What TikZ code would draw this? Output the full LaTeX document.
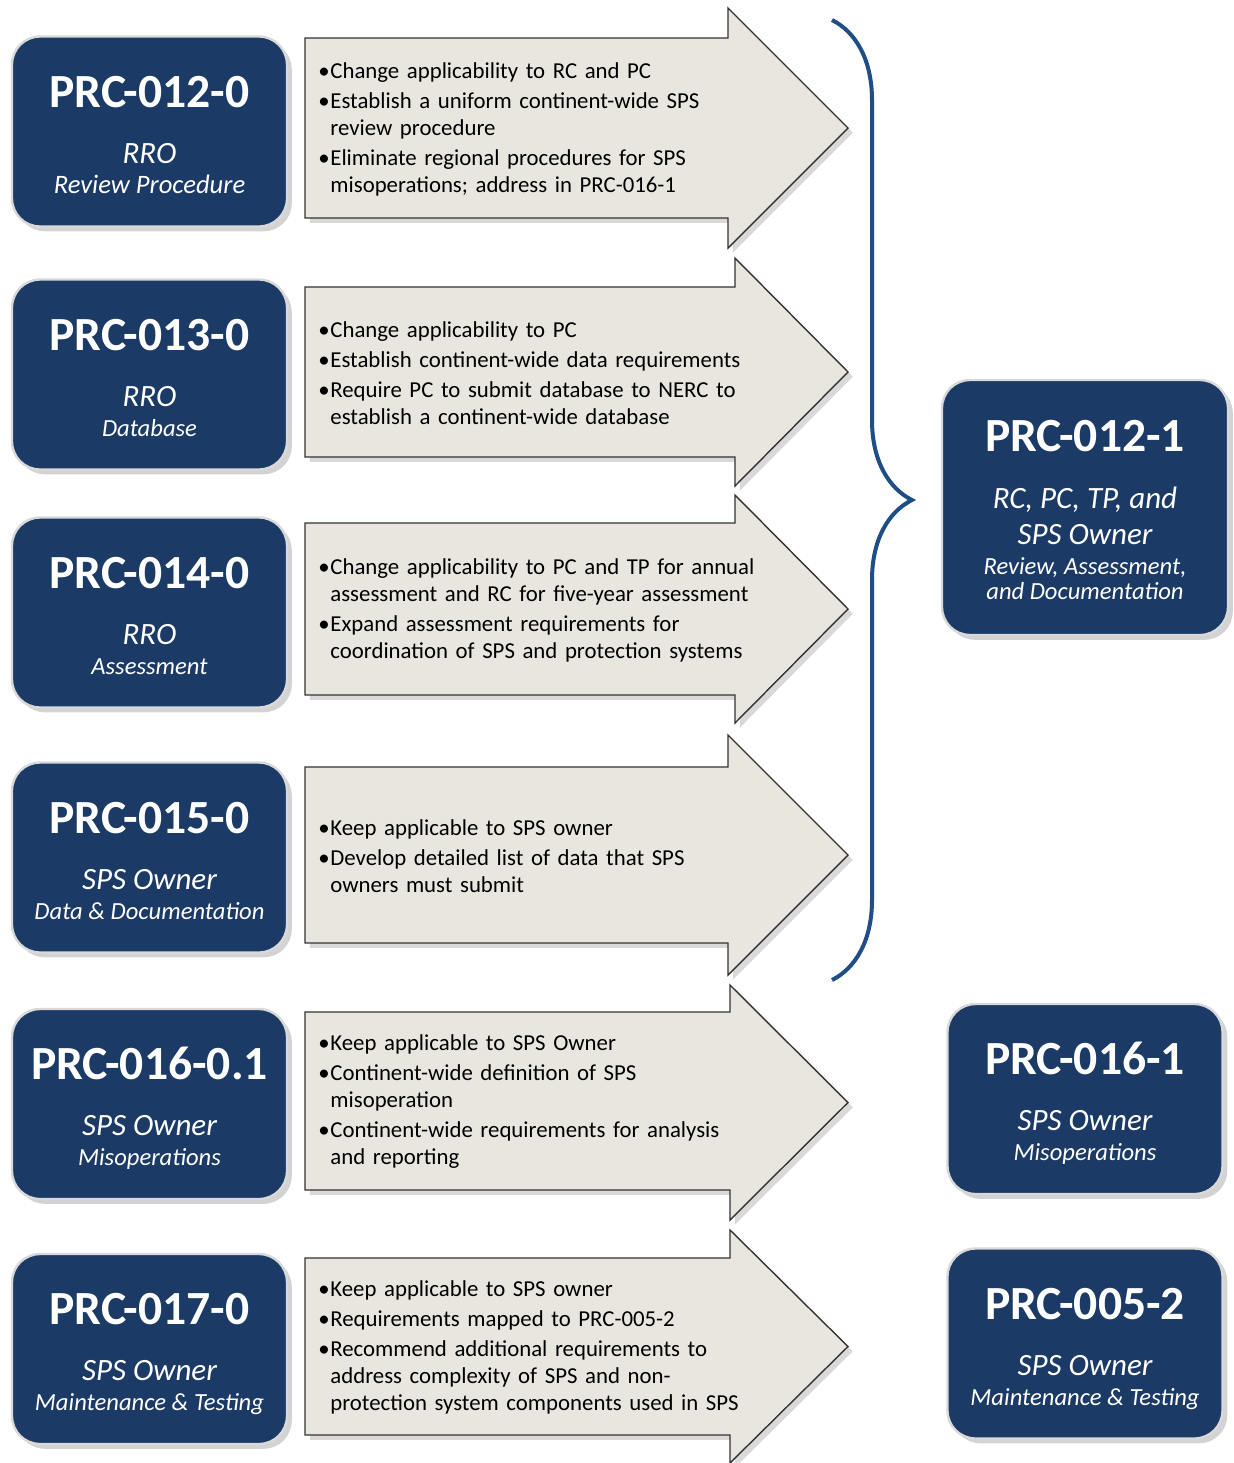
\documentclass[tikz,border=0pt]{standalone}
\usepackage{fontspec}
\setmainfont{Carlito}
\usetikzlibrary{calc,shadows,decorations.pathreplacing}
\definecolor{boxblue}{HTML}{1B3A66}
\definecolor{arrowfill}{HTML}{E8E6DE}
\definecolor{braceblue}{HTML}{1F4E86}
\newcommand\bl[1]{\noindent\hangindent=6pt\hangafter=1\makebox[6pt][l]{\textbullet}#1\par}
\tikzset{x=0.5pt, y=-0.5pt,
	std box/.style={draw=black!15, line width=1.2pt, fill=boxblue, rounded corners=14pt,
		minimum width=137.5pt, minimum height=95pt, drop shadow={opacity=0.35}},
	std title/.style={anchor=base, text=white, inner sep=0pt, font=\fontsize{23.8}{28}\selectfont\bfseries},
	std who/.style={anchor=base, text=white, inner sep=0pt, font=\fontsize{15.5}{18}\selectfont\itshape},
	std what/.style={anchor=base, text=white, inner sep=0pt, font=\fontsize{12.3}{15}\selectfont\itshape},
	stage arrow/.style={draw=black!80, line width=0.7pt, fill=arrowfill, drop shadow={opacity=0.3}},
	stage text/.style={anchor=west, inner sep=0pt, align=left, text width=235pt,
		font=\fontsize{11.4}{13.5}\selectfont\setlength{\parskip}{1.5pt}},
	curly/.style={draw=braceblue, line width=2pt, decorate, decoration={brace, amplitude=40pt}}
}
\def\Std#1#2#3#4#5#6{%
	\node[std box] (#1) at (#2,#3) {};
	\node[std title] (#1-title) at ($(#1)+(0,-24.5)$) {#4};
	\node[std who] (#1-who) at ($(#1)+(0,31.5)$) {#5};
	\node[std what] (#1-what) at ($(#1)+(0,61.5)$) {#6};
}
\def\Stage#1#2#3#4#5#6#7{%
	\draw[stage arrow] (305,#3) -- (#2,#3) -- (#2,#5) -- (848,{(#5+#6)/2})
		-- (#2,#6) -- (#2,#4) -- (305,#4) -- cycle;
	\node[stage text] (#1) at (318,{(#3+#4)/2+1}) {#7};
}

\begin{document}
\begin{tikzpicture}
\useasboundingbox (0,0) rectangle (1233,1463);
% arrows
\Stage{a12}{728}{38}{218}{8}{248}{\bl{Change applicability to RC and PC}
	\bl{Establish a uniform continent-wide SPS\newline review procedure}
	\bl{Eliminate regional procedures for SPS\newline misoperations; address in PRC-016-1}}
\Stage{a13}{735}{287}{457}{258}{486}{\bl{Change applicability to PC}
	\bl{Establish continent-wide data requirements}
	\bl{Require PC to submit database to NERC to\newline establish a continent-wide database}}
\Stage{a14}{735}{523}{695}{495}{723}{\bl{Change applicability to PC and TP for annual\newline assessment and RC for five-year assessment}
	\bl{Expand assessment requirements for\newline coordination of SPS and protection systems}}
\Stage{a15}{728}{767}{943}{735}{975}{\bl{Keep applicable to SPS owner}
	\bl{Develop detailed list of data that SPS\newline owners must submit}}
\Stage{a16}{730}{1012}{1190}{985}{1220}{\bl{Keep applicable to SPS Owner}
	\bl{Continent-wide definition of SPS\newline misoperation}
	\bl{Continent-wide requirements for analysis\newline and reporting}}
\Stage{a17}{730}{1258}{1435}{1230}{1463}{\bl{Keep applicable to SPS owner}
	\bl{Requirements mapped to PRC-005-2}
	\bl{Recommend additional requirements to\newline address complexity of SPS and non-\newline protection system components used in SPS}}
% current standards
\Std{prc12}{149.5}{131.5}{PRC-012-0}{RRO}{\fontsize{13.3}{15}\selectfont Review Procedure}
\Std{prc13}{149.5}{374.5}{PRC-013-0}{RRO}{Database}
\Std{prc14}{149.5}{612.5}{PRC-014-0}{RRO}{Assessment}
\Std{prc15}{149.5}{857.5}{PRC-015-0}{SPS Owner}{Data \& Documentation}
\Std{prc16}{149.5}{1104}{PRC-016-0.1}{SPS Owner}{Misoperations}
\Std{prc17}{149.5}{1349}{PRC-017-0}{SPS Owner}{Maintenance \& Testing}
% revised standards
\node[std box, minimum width=143pt, minimum height=127.5pt] (new12) at (1085,507.5) {};
\node[std title] (new12-title) at ($(new12)+(0,-56.5)$) {PRC-012-1};
\node[std who] (new12-who) at ($(new12)+(0,0.5)$) {RC, PC, TP, and};
\node[std who] (new12-who2) at ($(new12)+(0,36.5)$) {SPS Owner};
\node[std what] (new12-what) at ($(new12)+(0,66.5)$) {Review, Assessment,};
\node[std what] (new12-what2) at ($(new12)+(0,91.5)$) {and Documentation};
\Std{new16}{1085}{1099}{PRC-016-1}{SPS Owner}{Misoperations}
\Std{new05}{1085}{1343.5}{PRC-005-2}{SPS Owner}{Maintenance \& Testing}
% brace
\coordinate (brace top) at (832,20);
\coordinate (brace bottom) at (832,980);
\draw[curly] (brace top) -- (brace bottom);
\end{tikzpicture}
\end{document}
